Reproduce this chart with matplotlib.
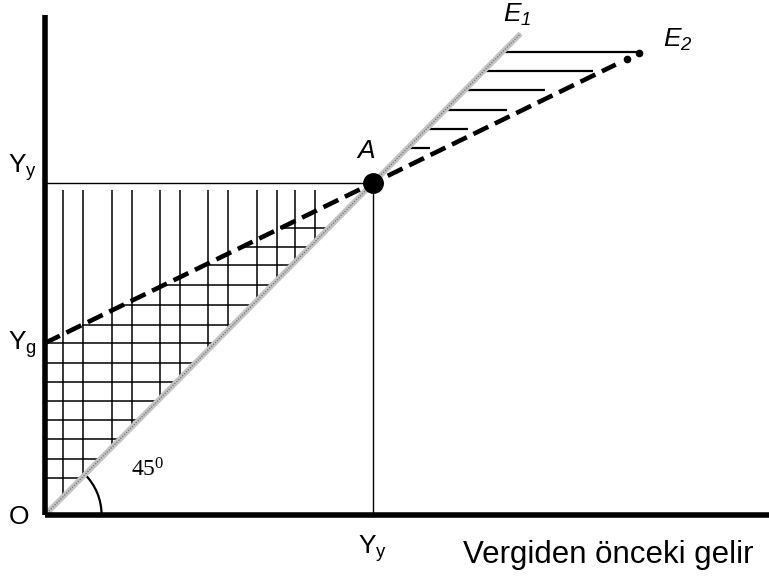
import matplotlib
matplotlib.use("Agg")
import matplotlib.pyplot as plt
from matplotlib.patches import Arc
import numpy as np

plt.rcParams['font.family'] = ['Liberation Sans', 'DejaVu Sans']
plt.rcParams['mathtext.default'] = 'regular'

# ---- data (units: Yy = 10) ----
Yy = 10.0
Yg = 5.18
E1_end = 14.5            # 45-degree line end (x = y)
E2_end_x = 18.1          # end of E2 line
E2_slope = (Yy - Yg) / Yy

# horizontal hatching below E2 and above the 45° line
low_hatch_y = [1.11, 1.69, 2.29, 2.86, 3.43, 4.01, 4.58, 5.18,
               5.72, 6.33, 6.93, 7.53, 8.07, 8.64]
# vertical hatching between the 45° line and Yy
vert_hatch_x = [0.55, 1.16, 2.04, 2.65, 3.51, 4.12, 4.97, 5.58,
                6.46, 7.07, 7.62, 8.23]
vert_hatch_top = 9.79
# horizontal hatching between E1 and E2 beyond A
up_hatch_y = [11.05, 11.63, 12.20, 12.80, 13.37, 13.95]
up_hatch_end = [11.74, 12.90, 14.09, 15.24, 16.71, 18.05]

fig = plt.figure(figsize=(7.69, 5.80), dpi=100)
ax = fig.add_axes([0, 0, 1, 1])
ax.set_xlim(-45 / 32.8, 724 / 32.8)
ax.set_ylim(-65 / 33.2, 515 / 33.2)
ax.axis('off')

def e2(x):
    return Yg + E2_slope * x

hl = dict(color='black', lw=1.1, solid_capstyle='butt')

# lower horizontal hatch
for y in low_hatch_y:
    x0 = max(0.0, (y - Yg) / E2_slope)
    ax.plot([x0, y], [y, y], **hl)
# vertical hatch
for x in vert_hatch_x:
    ax.plot([x, x], [x, vert_hatch_top], **hl)
# upper horizontal hatch
for y, xe in zip(up_hatch_y, up_hatch_end):
    ax.plot([y, xe], [y, y], color='black', lw=1.6, solid_capstyle='butt')

# Yy guide lines
ax.plot([0, Yy], [Yy, Yy], color='black', lw=1.0)
ax.plot([Yy, Yy], [0, Yy], color='black', lw=1.0)

# E1 (45° line), gray stippled
ax.plot([0, E1_end], [0, E1_end], color='#c4c4c4', lw=4.0, solid_capstyle='butt')
ax.plot([0, E1_end], [0, E1_end], color='#707070', lw=0.9, dashes=(1, 1.2))

# E2 dashed
ax.plot([0, E2_end_x - 0.7], [Yg, e2(E2_end_x - 0.7)], color='black', lw=3.3,
        dashes=(3.6, 1.6), solid_capstyle='butt')
ax.plot([E2_end_x - 0.35, E2_end_x], [e2(E2_end_x - 0.35), e2(E2_end_x)], 'o',
        color='black', ms=4.5)

# axes
ax.plot([0, 0], [0, 500 / 33.2], color='black', lw=4.0, solid_capstyle='butt')
ax.plot([0, 724 / 32.8], [0, 0], color='black', lw=4.0, solid_capstyle='butt')

# point A
ax.plot([Yy], [Yy], 'o', color='black', ms=14)

# 45° arc
ax.add_patch(Arc((0, 0), 3.45, 3.45, theta1=0, theta2=45, color='black', lw=1.6))

# labels
fs = 19
ax.text(-0.68, 10.45, r'$\mathregular{Y_y}$', fontsize=fs, ha='center', va='center')
ax.text(-0.68, 5.12, r'$\mathregular{Y_g}$', fontsize=fs, ha='center', va='center')
ax.text(-0.80, -0.05, 'O', fontsize=fs, ha='center', va='center')
ax.text(9.8, 10.95, 'A', fontsize=fs, ha='center', va='center', style='italic')
ax.text(14.4, 15.05, r'$\mathregular{E_1}$', fontsize=fs, ha='center', va='center',
        style='italic')
ax.text(19.3, 14.3, r'$\mathregular{E_2}$', fontsize=fs, ha='center', va='center',
        style='italic')
ax.text(Yy, -1.0, r'$\mathregular{Y_y}$', fontsize=fs, ha='center', va='center')
ax.text(3.14, 1.36, r'$\mathregular{45^0}$', fontsize=17, ha='center', va='center',
        family='Liberation Serif')
ax.text(12.74, -1.45, 'Vergiden önceki gelir', fontsize=22.5, ha='left', va='baseline')

fig.savefig('out.png', dpi=100)
